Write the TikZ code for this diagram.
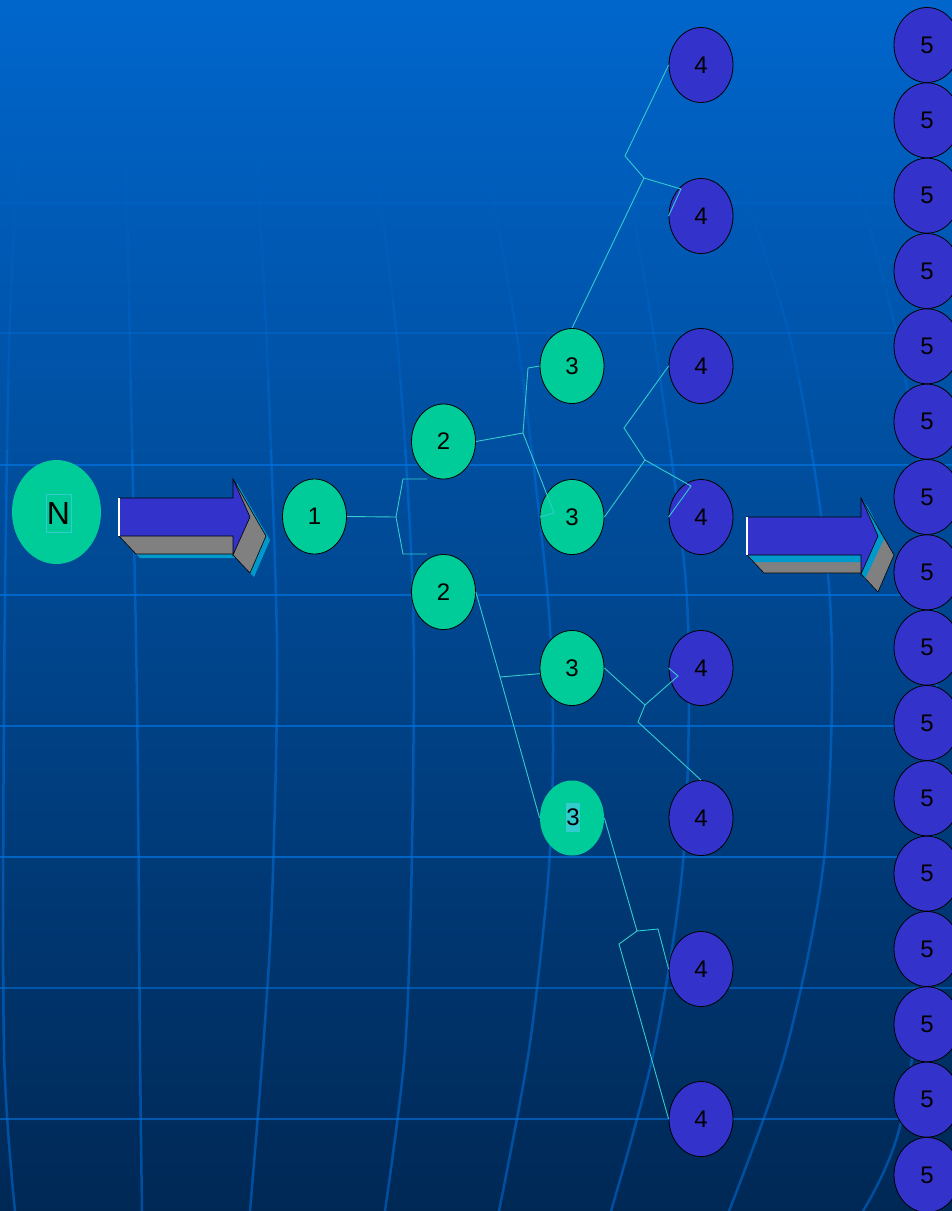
\documentclass[tikz,border=0pt]{standalone}
\usepackage{fontspec}
\setmainfont{Liberation Sans}
\usetikzlibrary{shapes.geometric,calc}
\definecolor{bgtop}{RGB}{0,102,204}
\definecolor{bgmid}{RGB}{0,80,160}
\definecolor{bgbot}{RGB}{0,40,85}
\definecolor{gridcol}{RGB}{0,115,225}
\definecolor{nodegreen}{RGB}{0,204,153}
\definecolor{nodeblue}{RGB}{51,51,204}
\definecolor{conncol}{RGB}{51,204,204}
\definecolor{arrgray}{RGB}{128,128,128}
\definecolor{arrcyan}{RGB}{0,153,204}
\definecolor{hlcyan}{RGB}{51,204,204}
\newcommand\drawmeridians[1]{%
  \draw[gridline,opacity=#1] plot[smooth] coordinates {(18,160) (9,350) (4,700) (4,1050) (15,1211)};
  \draw[gridline,opacity=#1] plot[smooth] coordinates {(126,160) (130,350) (137,700) (140,1050) (142,1211)};
  \draw[gridline,opacity=#1] plot[smooth] coordinates {(257,160) (267,350) (277,650) (272,900) (263,1050) (250,1211)};
  \draw[gridline,opacity=#1] plot[smooth] coordinates {(375,160) (398,350) (413,600) (412,850) (405,1050) (385,1211)};
  \draw[gridline,opacity=#1] plot[smooth] coordinates {(486,160) (519,350) (548,600) (553,750) (548,880) (529,1050) (499,1211)};
  \draw[gridline,opacity=#1] plot[smooth] coordinates {(623,160) (656,350) (687,600) (684,850) (654,1050) (611,1211)};
  \draw[gridline,opacity=#1] plot[smooth] coordinates {(733,160) (793,350) (830,600) (825,850) (786,1050) (729,1211)};
  \draw[gridline,opacity=#1] plot[smooth] coordinates {(850,160) (900,350) (935,600) (930,900) (901,1122) (863,1211)};
}
\begin{document}
\begin{tikzpicture}[x=1pt,y=-1pt,
  gnode/.style={ellipse,fill=nodegreen,draw=black,line width=0.8pt,minimum width=64pt,minimum height=75pt,inner sep=0pt,font=\fontsize{24}{28}\selectfont},
  bnode/.style={gnode,fill=nodeblue},
  fnode/.style={bnode,minimum width=66pt},
  conn/.style={draw=conncol,line width=0.9pt},
  gridline/.style={draw=gridcol,line width=2.5pt},
  arrfront/.style={fill=nodeblue,draw=black,line width=0.6pt},
  arrside/.style={fill=arrgray},
  arredge/.style={draw=black,line width=0.6pt}]
\useasboundingbox (0,0) rectangle (952,1211);
\shade[top color=bgtop,middle color=bgmid,bottom color=bgbot] (0,0) rectangle (952,1211);
% grid
\foreach \yy/\op in {203/0.18,333/0.35,465/0.7,595/0.7,726/0.7,857/0.7,988/0.55,1119/0.6}
  \draw[gridline,opacity=\op] (0,\yy) -- (952,\yy);
\foreach \ya/\yb/\op in {160/230/0.08,230/300/0.15,300/380/0.24,380/450/0.35,450/1211/0.52}{
  \begin{scope}
    \clip (0,\ya) rectangle (952,\yb);
    \drawmeridians{\op}
  \end{scope}
}
% left arrow
\begin{scope}[shift={(119,498)}]
  \fill[arrcyan] (4,42) -- (118,42) -- (118,60) -- (21,60) -- cycle;
  \fill[arrcyan] (118,-15) -- (151,42) -- (135,79) -- (118,61) -- cycle;
  \fill[arrside] (0,38) -- (114,38) -- (114,56) -- (17,56) -- cycle;
  \fill[arrside] (114,-19) -- (147,38) -- (131,75) -- (114,57) -- cycle;
  \draw[arredge] (0,38) -- (17,56) -- (114,56);
  \draw[arredge] (114,-19) -- (147,38) -- (131,75) -- (114,57);
  \draw[arrfront] (0,0) -- (114,0) -- (114,-19) -- (131,19) -- (114,57) -- (114,38) -- (0,38) -- cycle;
  \draw[white,line width=2pt] (0,0) -- (0,38);
\end{scope}
% right arrow
\begin{scope}[shift={(747,517)}]
  \fill[arrside] (0,38) -- (114,38) -- (114,56) -- (17,56) -- cycle;
  \fill[arrcyan] (1,38) -- (114,38) -- (114,45) -- (8,45) -- cycle;
  \fill[arrside] (114,-19) -- (147,38) -- (131,75) -- (114,57) -- cycle;
  \fill[arrcyan] (114,-19) -- (131,19) -- (114,57) -- (118,62) -- (137,22) -- (121,-10) -- cycle;
  \draw[arredge] (0,38) -- (17,56) -- (114,56);
  \draw[arredge] (114,-19) -- (147,38) -- (131,75) -- (114,57);
  \draw[arrfront] (0,0) -- (114,0) -- (114,-19) -- (131,19) -- (114,57) -- (114,38) -- (0,38) -- cycle;
  \draw[white,line width=2pt] (0,0) -- (0,38);
\end{scope}
% nodes
\node[ellipse,fill=nodegreen,minimum width=89pt,minimum height=104pt,inner sep=0pt] (nN) at (56.5,512) {};
\node[draw=hlcyan,line width=1pt,minimum width=25pt,minimum height=38pt,inner sep=0pt,font=\fontsize{32}{36}\selectfont] (nNlab) at (58.5,513) {N};
\node[gnode] (n1) at (314.5,516.5) {1};
\node[gnode] (n2a) at (443.5,441.5) {2};
\node[gnode] (n2b) at (443.5,592) {2};
\node[gnode] (n3a) at (572,366) {3};
\node[gnode] (n3b) at (572,517) {3};
\node[gnode] (n3c) at (572,668) {3};
\node[gnode,draw=none] (n3d) at (572,818) {};
\node[fill=hlcyan,minimum width=14pt,minimum height=29pt,inner sep=0pt,font=\fontsize{24}{28}\selectfont] (n3dlab) at (573,817.5) {3};
\node[bnode] (n4a) at (701,65) {4};
\node[bnode] (n4b) at (701,216) {4};
\node[bnode] (n4c) at (701,366) {4};
\node[bnode] (n4d) at (701,517) {4};
\node[bnode] (n4e) at (701,668) {4};
\node[bnode] (n4f) at (701,818) {4};
\node[bnode] (n4g) at (701,969) {4};
\node[bnode] (n4h) at (701,1119) {4};
\foreach \i in {0,...,15}
  \node[fnode] (n5-\i) at (927,{45+75.33*\i}) {5};
% connectors
\coordinate (j1) at (396,517);
\coordinate (e2a) at (427,479);
\coordinate (e2b) at (427,554);
\draw[conn] (n1.east) -- (j1) -- (403,479) -- (e2a);
\draw[conn] (j1) -- (403,554) -- (e2b);
\coordinate (j2a) at (523,433);
\draw[conn] (n2a.east) -- (j2a) -- (528,368) -- (n3a.west);
\draw[conn] (j2a) -- (554,513) -- (n3b.west);
\coordinate (j2b) at (500,677);
\draw[conn] (n2b.east) -- (j2b) -- (n3d.west);
\draw[conn] (j2b) -- (n3c.190);
\coordinate (j3a) at (644,178);
\draw[conn] (n3a.north) -- (j3a) -- (625,156) -- (n4a.west);
\draw[conn] (j3a) -- (681,189) -- (n4b.west);
\coordinate (j3b) at (645,460);
\draw[conn] (n3b.east) -- (j3b) -- (624,428) -- (n4c.west);
\draw[conn] (j3b) -- (691,486) -- (n4d.west);
\coordinate (j3c) at (645,705);
\draw[conn] (n3c.east) -- (j3c) -- (678,676) -- (n4e.west);
\draw[conn] (j3c) -- (638,722) -- (n4f.north);
\coordinate (j3d) at (637,931);
\draw[conn] (n3d.east) -- (j3d) -- (658,929) -- (n4g.west);
\draw[conn] (j3d) -- (619,944) -- (n4h.west);
\end{tikzpicture}
\end{document}
